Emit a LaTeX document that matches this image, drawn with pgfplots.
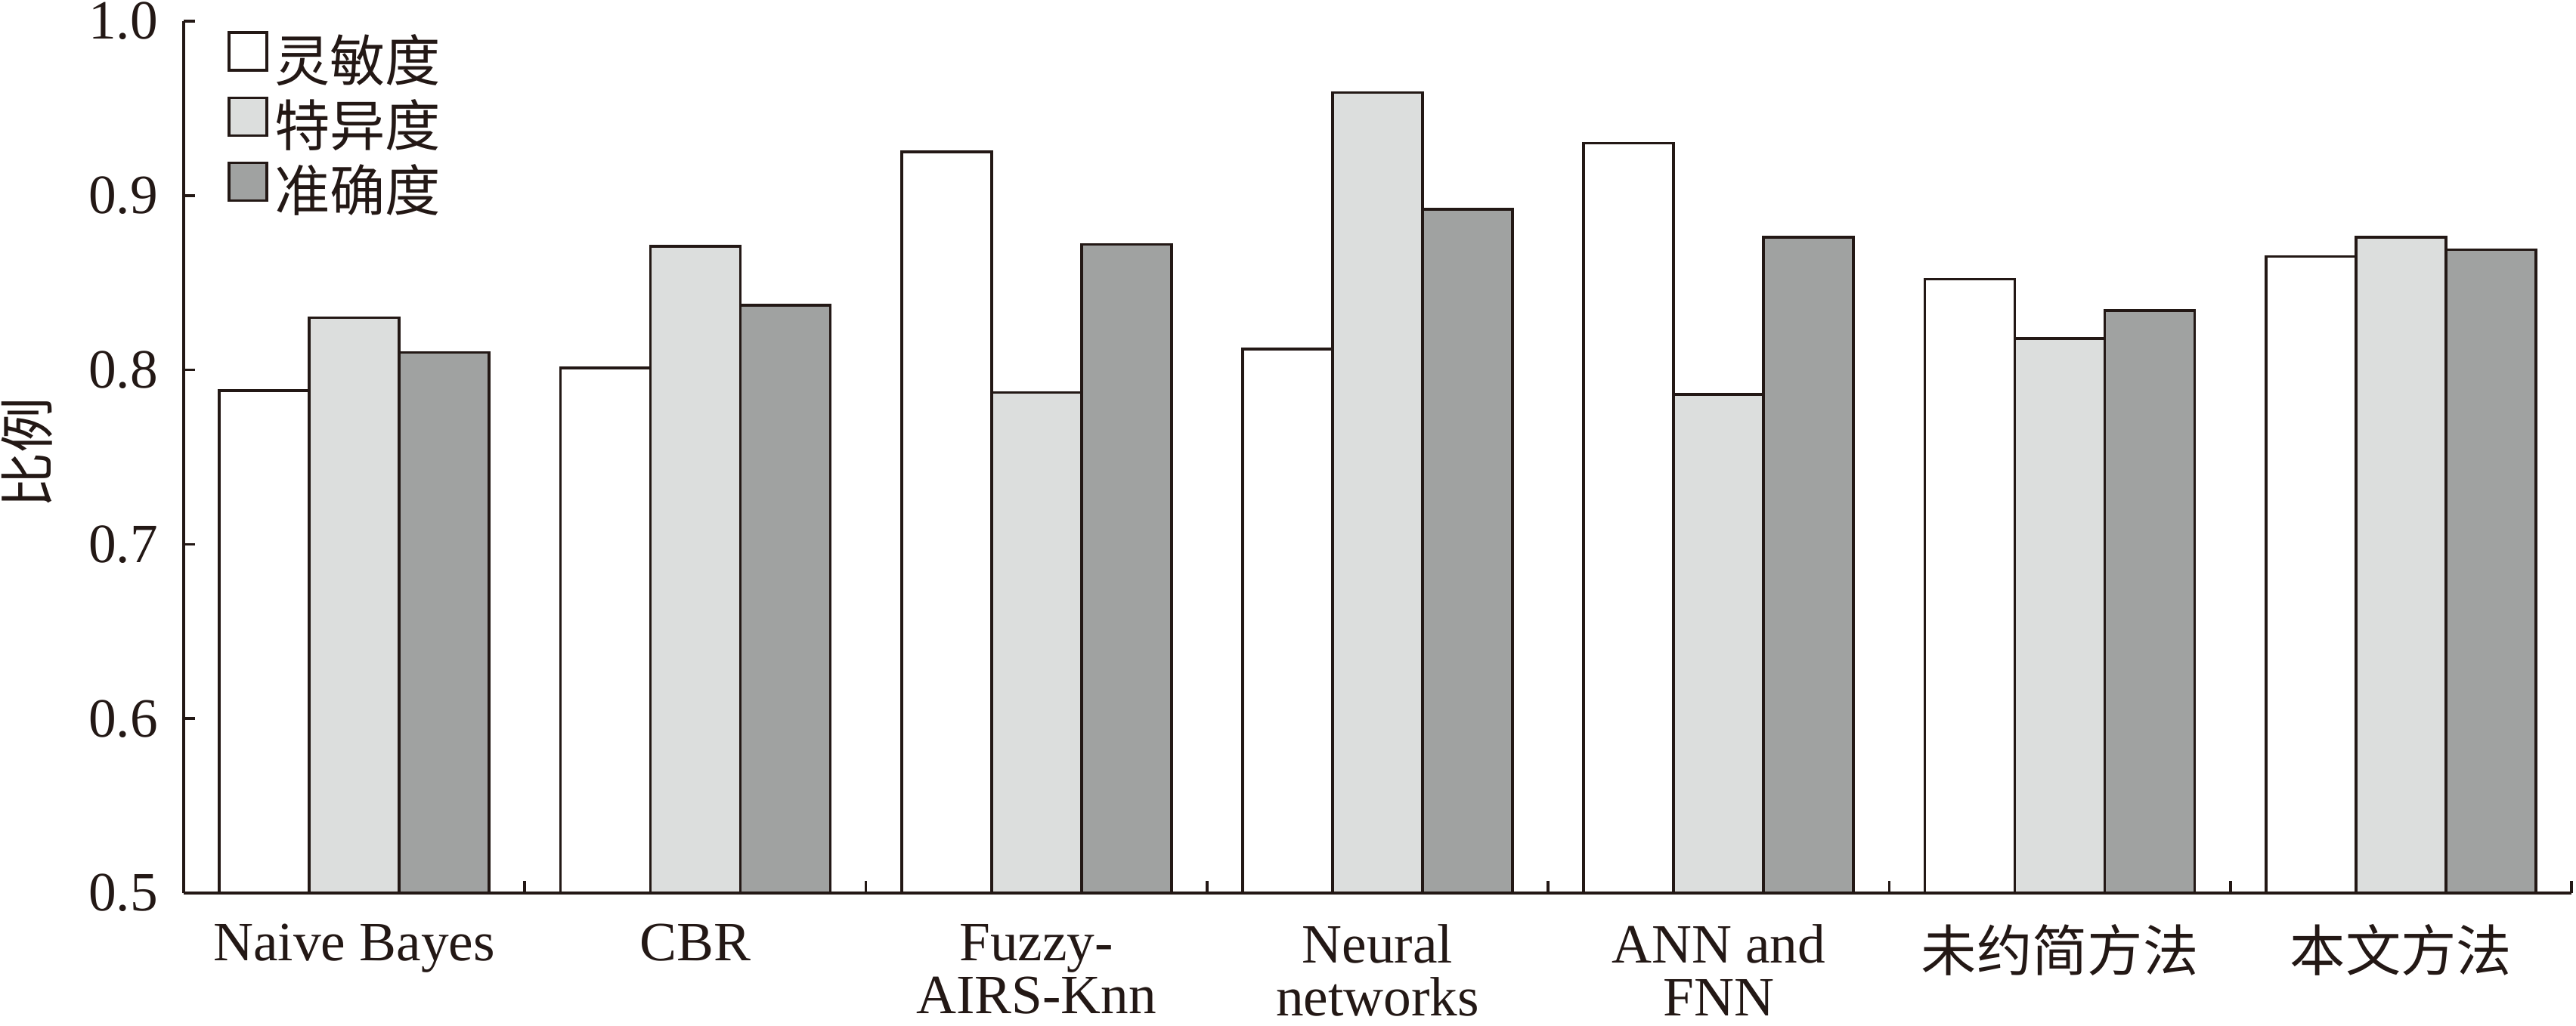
\documentclass[border=0pt]{standalone}
\usepackage{fontspec}
\setmainfont{Liberation Serif}
\newfontfamily\cjk{Noto Sans CJK SC}
\usepackage{pgfplots}
\pgfplotsset{compat=1.18}
\definecolor{ink}{HTML}{231815}
\definecolor{lightbar}{HTML}{DCDEDD}
\definecolor{darkbar}{HTML}{A0A2A1}
\pgfplotstableread{
x sens spec acc
0 0.788 0.830 0.810
1 0.801 0.871 0.837
2 0.925 0.787 0.872
3 0.812 0.959 0.892
4 0.930 0.786 0.876
5 0.852 0.818 0.834
6 0.865 0.876 0.869
}\datatable
\begin{document}
\begin{tikzpicture}[font=\fontsize{11bp}{10.5bp}\selectfont, color=ink]
\useasboundingbox (-36.45bp,-26.4bp) rectangle (474.75bp,177.3bp);
\begin{axis}[
  at={(0,0)}, anchor=south west,
  scale only axis,
  width=473.85bp, height=173.1bp,
  xmin=-0.5, xmax=6.5, ymin=0.5, ymax=1.0,
  enlarge x limits=false, enlarge y limits=false,
  ybar=0pt, bar width=17.85bp,
  axis x line*=bottom, axis y line*=left,
  axis line style={-, line width=0.55bp, ink},
  xtick={0,...,6},
  xticklabels={Naive Bayes, CBR, {Fuzzy-\\AIRS-Knn}, {Neural\\networks}, {ANN and\\FNN}, {\cjk 未约简方法}, {\cjk 本文方法}},
  minor xtick={-0.5,0.5,...,6.5},
  major x tick style={draw=none},
  minor x tick style={line width=0.55bp, ink},
  minor tick length=2.4bp,
  ytick={0.5,0.6,...,1.0},
  major y tick style={line width=0.55bp, ink},
  major tick length=2.3bp,
  tick align=inside,
  /pgf/number format/assume math mode=true,
  /pgf/number format/fixed,
  /pgf/number format/fixed zerofill,
  /pgf/number format/precision=1,
  yticklabel style={inner sep=0pt, xshift=-4.9bp, font=\fontsize{11bp}{13bp}\selectfont},
  xticklabel style={inner sep=0pt, anchor=north, yshift=-6.0bp, align=center, font=\fontsize{11bp}{10.5bp}\selectfont},
  ylabel={\cjk 比例},
  every axis y label/.style={at={(axis description cs:-0.0655,0.505)}, rotate=90, anchor=center, font=\fontsize{11bp}{13bp}\selectfont},
  legend cell align=left,
  legend image code/.code={\path[draw=none, fill=none] (0bp,0bp) -- (9bp,0bp); \draw[#1] (0bp,-1.35bp) rectangle (7.5bp,6.15bp);},
  legend style={at={(axis description cs:0.01804,0.9896)}, anchor=north west, draw=none, fill=none, inner sep=0pt, row sep=1.0bp, column sep=0bp,
    nodes={inner sep=0pt, text height=9bp, text depth=2bp, font=\cjk\fontsize{11bp}{13bp}\selectfont}},
  every axis plot/.append style={draw=ink, line width=0.55bp},
]
\addplot[fill=white, draw=ink] table[x=x, y=sens] {\datatable};
\addplot[fill=lightbar, draw=ink] table[x=x, y=spec] {\datatable};
\addplot[fill=darkbar, draw=ink] table[x=x, y=acc] {\datatable};
\legend{灵敏度, 特异度, 准确度}
\end{axis}
\end{tikzpicture}
\end{document}
